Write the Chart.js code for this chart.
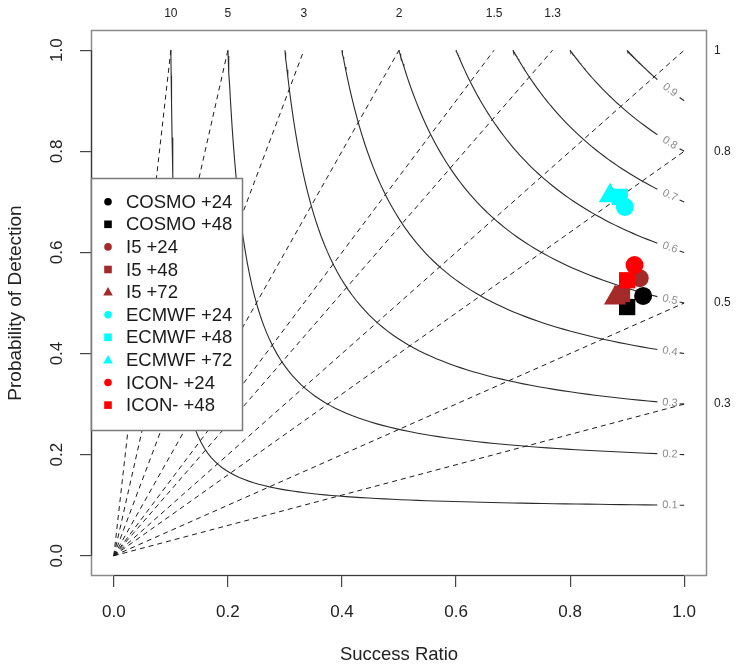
<!DOCTYPE html>
<html>
<head>
<meta charset="utf-8">
<title>Performance diagram</title>
<script src="https://cdn.jsdelivr.net/npm/chart.js@4.4.1/dist/chart.umd.min.js"></script>
<style>
  html, body { margin: 0; padding: 0; background: #ffffff; }
  #wrap { width: 737px; height: 667px; }
</style>
</head>
<body>
<div id="wrap"><canvas id="perfChart" width="737" height="667"></canvas></div>
<script>
// ============================================================
// DATA
// ============================================================

// one marker per model / lead time
const seriesNames   = ['COSMO +24', 'COSMO +48', 'I5 +24', 'I5 +48', 'I5 +72',
                       'ECMWF +24', 'ECMWF +48', 'ECMWF +72', 'ICON- +24', 'ICON- +48'];
const successRatio  = [0.928, 0.900, 0.922, 0.891, 0.879, 0.896, 0.887, 0.870, 0.913, 0.900];
const probDetection = [0.514, 0.492, 0.549, 0.518, 0.510, 0.690, 0.710, 0.712, 0.575, 0.545];
const seriesColors  = ['#000000', '#000000', '#a52a2a', '#a52a2a', '#a52a2a',
                       '#00ffff', '#00ffff', '#00ffff', '#ff0000', '#ff0000'];
const seriesShapes  = ['circle', 'rect', 'circle', 'rect', 'triangle',
                       'circle', 'rect', 'triangle', 'circle', 'rect'];

// background isolines of the diagram
const csiLevels  = [0.1, 0.2, 0.3, 0.4, 0.5, 0.6, 0.7, 0.8, 0.9];
const biasLevels = [10, 5, 3, 2, 1.5, 1.3, 1, 0.8, 0.5, 0.3];

// axis ticks
const axisTicks = [0, 0.2, 0.4, 0.6, 0.8, 1.0];

// ============================================================
// HELPERS
// ============================================================

// POD on the critical success index isoline c, for a given success ratio
function csiPod(sr, c) {
  return 1 / (1 / c + 1 - 1 / sr);
}

const labelBreak = 0.953;   // contour stops here to leave room for its label
const labelAt    = 0.975;   // where the label sits
const tailStart  = 0.992;   // short piece after the label

// ============================================================
// DATASETS
// ============================================================
const datasets = [];

// dashed frequency bias lines, from the origin out to the frame
biasLevels.forEach(function(b) {
  datasets.push({
    label: 'bias ' + b,
    data: [{ x: 0, y: 0 }, { x: Math.min(1, 1 / b), y: Math.min(1, b) }],
    showLine: true,
    borderColor: '#1a1a1a',
    borderWidth: 1,
    borderDash: [5, 4],
    pointRadius: 0,
    order: 1000
  });
});

// solid CSI contours
csiLevels.forEach(function(c) {
  const pts = [];
  const n = 80;
  for (let i = 0; i <= n; i++) {
    const t = i / n;
    const sr = c + (labelBreak - c) * t * t;
    pts.push({ x: sr, y: csiPod(sr, c) });
  }
  pts.push({ x: (labelBreak + tailStart) / 2, y: null });   // gap for the label
  pts.push({ x: tailStart, y: csiPod(tailStart, c) });
  pts.push({ x: 1, y: csiPod(1, c) });
  datasets.push({
    label: 'csi ' + c,
    data: pts,
    showLine: true,
    spanGaps: false,
    borderColor: '#2a2a2a',
    borderWidth: 1.1,
    pointRadius: 0,
    order: 1001
  });
});

// the forecast markers (later ones on top, like the original)
const markerRadius = { circle: 9, rect: 11.5, triangle: 13 };
seriesNames.forEach(function(name, i) {
  datasets.push({
    label: name,
    data: [{ x: successRatio[i], y: probDetection[i] }],
    pointStyle: seriesShapes[i],
    pointRadius: markerRadius[seriesShapes[i]],
    backgroundColor: seriesColors[i],
    borderColor: seriesColors[i],
    borderWidth: 0,
    order: 100 - i
  });
});

// ============================================================
// PLUGIN: frame, axis lines, contour labels, legend
// ============================================================
const diagramExtras = {
  id: 'diagramExtras',

  beforeDatasetsDraw(chart) {
    const ctx = chart.ctx;
    const a = chart.chartArea;
    const xs = chart.scales.x, ys = chart.scales.y;
    ctx.save();
    // grey frame
    ctx.strokeStyle = '#8a8a8a';
    ctx.lineWidth = 1.5;
    ctx.strokeRect(a.left + 0.5, a.top + 0.5, a.right - a.left - 1, a.bottom - a.top - 1);
    // dark axis lines from 0 to 1
    ctx.strokeStyle = '#3a3a3a';
    ctx.lineWidth = 1.2;
    ctx.beginPath();
    ctx.moveTo(a.left + 0.5, ys.getPixelForValue(0));
    ctx.lineTo(a.left + 0.5, ys.getPixelForValue(1));
    ctx.moveTo(xs.getPixelForValue(0), a.bottom - 0.5);
    ctx.lineTo(xs.getPixelForValue(1), a.bottom - 0.5);
    ctx.stroke();
    ctx.restore();
  },

  afterDatasetsDraw(chart) {
    const ctx = chart.ctx;
    const xs = chart.scales.x, ys = chart.scales.y;
    ctx.save();
    ctx.fillStyle = '#8c8c8c';
    ctx.font = '11px "Liberation Sans", Arial, sans-serif';
    ctx.textAlign = 'center';
    ctx.textBaseline = 'middle';
    csiLevels.forEach(function(c) {
      const x0 = xs.getPixelForValue(labelAt - 0.01), y0 = ys.getPixelForValue(csiPod(labelAt - 0.01, c));
      const x1 = xs.getPixelForValue(labelAt + 0.01), y1 = ys.getPixelForValue(csiPod(labelAt + 0.01, c));
      const px = xs.getPixelForValue(labelAt), py = ys.getPixelForValue(csiPod(labelAt, c));
      ctx.save();
      ctx.translate(px, py);
      ctx.rotate(Math.atan2(y1 - y0, x1 - x0));
      ctx.fillText(String(c), 0, 0);
      ctx.restore();
    });
    ctx.restore();
  },

  afterDraw(chart) {
    const ctx = chart.ctx;
    const a = chart.chartArea;
    const left = a.left, top = 178, width = 151, rowH = 22.6, firstRow = 201.7;
    const height = 252;
    ctx.save();
    ctx.fillStyle = '#ffffff';
    ctx.fillRect(left, top, width, height);
    ctx.strokeStyle = '#7a7a7a';
    ctx.lineWidth = 1.5;
    ctx.strokeRect(left + 0.5, top + 0.5, width, height);

    ctx.font = '18.5px "Liberation Sans", Arial, sans-serif';
    ctx.textAlign = 'left';
    ctx.textBaseline = 'middle';
    seriesNames.forEach(function(name, i) {
      const cy = firstRow + i * rowH;
      const cx = left + 17;
      ctx.fillStyle = seriesColors[i];
      ctx.beginPath();
      if (seriesShapes[i] === 'circle') {
        ctx.arc(cx, cy, 3.8, 0, Math.PI * 2);
      } else if (seriesShapes[i] === 'rect') {
        ctx.rect(cx - 3.8, cy - 3.8, 7.6, 7.6);
      } else {
        ctx.moveTo(cx, cy - 5);
        ctx.lineTo(cx + 4.8, cy + 3.5);
        ctx.lineTo(cx - 4.8, cy + 3.5);
        ctx.closePath();
      }
      ctx.fill();
      ctx.fillStyle = '#1a1a1a';
      ctx.fillText(name, left + 35, cy + 1);
    });
    ctx.restore();
  }
};

// ============================================================
// CHART
// ============================================================
Chart.defaults.font.family = '"Liberation Sans", Arial, sans-serif';
Chart.defaults.color = '#222222';

const topBias   = biasLevels.filter(function(b) { return b > 1; });
const rightBias = biasLevels.filter(function(b) { return b <= 1; });

const ctx = document.getElementById('perfChart').getContext('2d');
const perfChart = new Chart(ctx, {
  type: 'scatter',
  data: { datasets: datasets },
  plugins: [diagramExtras],
  options: {
    responsive: false,
    animation: false,
    events: [],
    layout: { padding: 0 },
    plugins: {
      legend: { display: false },
      tooltip: { enabled: false }
    },
    scales: {
      x: {
        type: 'linear', position: 'bottom', min: -0.04, max: 1.04,
        afterBuildTicks: function(s) { s.ticks = axisTicks.map(function(v) { return { value: v }; }); },
        afterFit: function(s) { s.height = 91; },
        ticks: { autoSkip: false, maxRotation: 0, padding: 15, font: { size: 17 }, color: '#222',
                 callback: function(v) { return v.toFixed(1); } },
        grid: { drawOnChartArea: false, drawTicks: true, tickLength: 11, color: '#444', lineWidth: 1.2 },
        border: { display: false },
        title: { display: true, text: 'Success Ratio', font: { size: 18.5 }, color: '#222',
                 padding: { top: 0, bottom: 1 } }
      },
      y: {
        type: 'linear', position: 'left', min: -0.04, max: 1.04,
        afterBuildTicks: function(s) { s.ticks = axisTicks.map(function(v) { return { value: v }; }); },
        afterFit: function(s) { s.width = 91; },
        ticks: { autoSkip: false, minRotation: 90, maxRotation: 90, crossAlign: 'center', padding: 11,
                 font: { size: 17 }, color: '#222',
                 callback: function(v) { return v.toFixed(1); } },
        grid: { drawOnChartArea: false, drawTicks: true, tickLength: 11, color: '#444', lineWidth: 1.2 },
        border: { display: false },
        title: { display: true, text: 'Probability of Detection', font: { size: 19 }, color: '#222',
                 padding: { top: 4, bottom: 0 } }
      },
      xTop: {
        type: 'linear', position: 'top', min: -0.04, max: 1.04,
        afterBuildTicks: function(s) { s.ticks = topBias.map(function(b) { return { value: 1 / b }; }); },
        afterFit: function(s) { s.height = 30; },
        ticks: { autoSkip: false, maxRotation: 0, padding: 9, font: { size: 12 }, color: '#222',
                 callback: function(v, i) { return String(topBias[i]); } },
        grid: { display: false, drawTicks: false },
        border: { display: false }
      },
      yRight: {
        type: 'linear', position: 'right', min: -0.04, max: 1.04,
        afterBuildTicks: function(s) { s.ticks = rightBias.map(function(b) { return { value: b }; }); },
        afterFit: function(s) { s.width = 30; },
        ticks: { autoSkip: false, padding: 7, font: { size: 12 }, color: '#222',
                 callback: function(v, i) { return String(rightBias[i]); } },
        grid: { display: false, drawTicks: false },
        border: { display: false }
      }
    }
  }
});
</script>
</body>
</html>
